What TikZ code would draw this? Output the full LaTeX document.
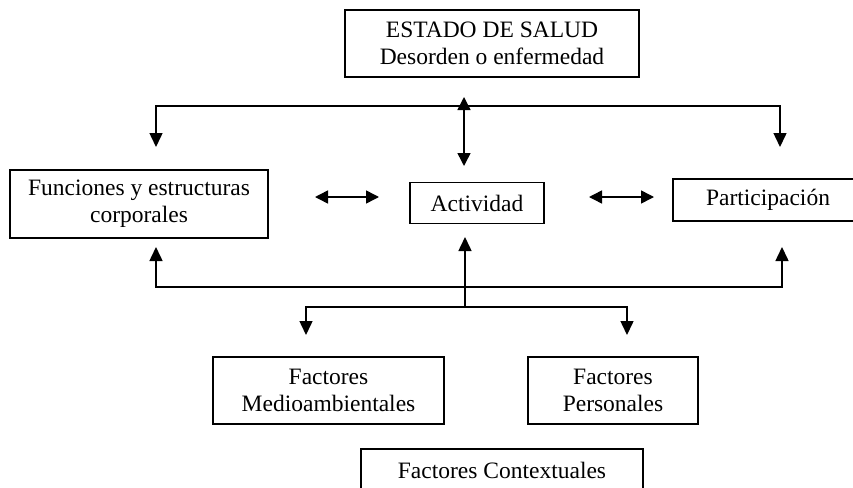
\documentclass[tikz,border=0pt]{standalone}
\usepackage{fontspec}
\setmainfont{Liberation Serif}
\usetikzlibrary{arrows.meta, positioning}

\begin{document}
\begin{tikzpicture}[
    x=1pt, y=-1pt,
    box/.style={rectangle, draw, line width=1.3pt, inner sep=0pt, align=center, font=\fontsize{23.5}{27}\selectfont},
    arrow/.style={-{Triangle[length=14pt,width=13pt]}, line width=1.5pt},
    dblarrow/.style={{Triangle[length=13pt,width=13pt]}-{Triangle[length=13pt,width=13pt]}, line width=1.5pt}
]
\useasboundingbox (0,0) rectangle (853,487);

% Health condition at top
\node[box, minimum width=294pt, minimum height=67pt] (salud) at (492,43.5) {ESTADO DE SALUD\\Desorden o enfermedad};

% Middle row
\node[box, minimum width=258pt, minimum height=68pt] (funciones) at (139,204) {Funciones y estructuras\\corporales};
\node[box, minimum width=134pt, minimum height=41pt] (actividad) at (477,203) {Actividad};
\node[box, minimum width=190pt, minimum height=42pt] (participacion) at (768,200) {Participación};

% Contextual factors
\node[box, minimum width=231pt, minimum height=67pt] (medio) at (328.5,390.5) {Factores\\Medioambientales};
\node[box, minimum width=170pt, minimum height=67pt] (personales) at (613,390.5) {Factores\\Personales};
\node[box, minimum width=282pt, minimum height=42pt] (contextuales) at (502,470) {Factores Contextuales};

% Junctions and free ends
\coordinate (jtop) at (464,106);
\coordinate (stip) at (464,97);
\coordinate (atop) at (464,166);
\coordinate (ftop) at (156,147);
\coordinate (ptop) at (780,147);
\coordinate (jmid) at (465,287);
\coordinate (jlow) at (465,307);
\coordinate (abot) at (465,237);
\coordinate (fbot) at (156,247);
\coordinate (pbot) at (782,247);
\coordinate (mtop) at (306,335);
\coordinate (rtop) at (627,335);

% Upper branches
\draw[dblarrow] (stip) -- (atop);
\draw[arrow] (jtop) -| (ftop);
\draw[arrow] (jtop) -| (ptop);

% Links between the middle boxes
\draw[dblarrow] (315,197) coordinate (fa1) -- (379,197) coordinate (fa2);
\draw[dblarrow] (589,197) coordinate (ap1) -- (654,197) coordinate (ap2);

% Lower branches
\draw[arrow] (jlow) -- (abot);
\draw[arrow] (jmid) -| (fbot);
\draw[arrow] (jmid) -| (pbot);
\draw[arrow] (jlow) -| (mtop);
\draw[arrow] (jlow) -| (rtop);

\end{tikzpicture}
\end{document}
